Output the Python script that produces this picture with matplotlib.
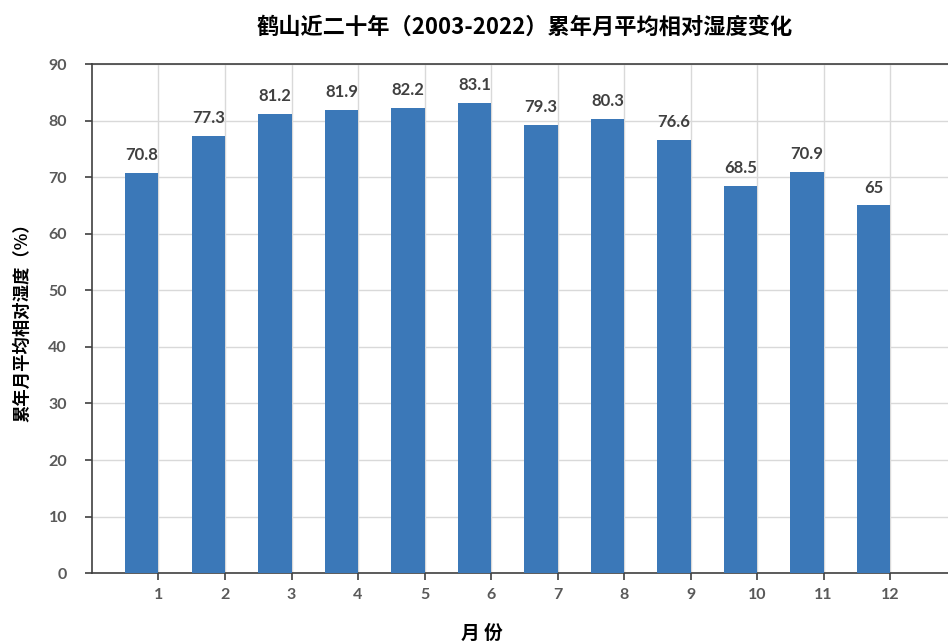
import matplotlib
matplotlib.use('Agg')
import matplotlib.pyplot as plt

# 数据：鹤山累年月平均相对湿度
months = [1, 2, 3, 4, 5, 6, 7, 8, 9, 10, 11, 12]
humidity = [70.8, 77.3, 81.2, 81.9, 82.2, 83.1, 79.3, 80.3, 76.6, 68.5, 70.9, 65]
value_labels = ['70.8', '77.3', '81.2', '81.9', '82.2', '83.1',
                '79.3', '80.3', '76.6', '68.5', '70.9', '65']
yticks = [0, 10, 20, 30, 40, 50, 60, 70, 80, 90]

plt.rcParams['font.family'] = ['Noto Sans CJK SC', 'DejaVu Sans']

fig = plt.figure(figsize=(9.48, 6.44), dpi=100)
ax = fig.add_axes([0.097, 0.110, 0.903, 0.7905])

bar_color = '#3B78B8'
# 柱子右边缘对齐刻度
ax.bar(months, humidity, width=-0.5, align='edge', color=bar_color, zorder=3)

for m, h, lbl in zip(months, humidity, value_labels):
    ax.annotate(lbl, (m - 0.25, h), xytext=(0, 7), textcoords='offset points',
                ha='center', va='bottom', fontsize=12, fontweight='bold',
                color='#404040', family=['Lato', 'DejaVu Sans'], zorder=4)

ax.set_xlim(0, 12.87)
ax.set_ylim(0, 90)
ax.set_xticks(months)
ax.set_yticks(yticks)
ax.grid(True, color='#D9D9D9', linewidth=1.0, zorder=0)

for lbl in ax.get_xticklabels() + ax.get_yticklabels():
    lbl.set_fontfamily(['Lato', 'DejaVu Sans'])
    lbl.set_fontweight('bold')
    lbl.set_color('#595959')
    lbl.set_fontsize(11.5)

ax.tick_params(axis='both', direction='out', length=5, color='#404040', width=1.2)
ax.tick_params(axis='x', pad=6)
ax.tick_params(axis='y', pad=13)

for side in ['left', 'bottom', 'top']:
    ax.spines[side].set_color('#404040')
    ax.spines[side].set_linewidth(1.2)
ax.spines['right'].set_visible(False)

ax.set_ylabel('累年月平均相对湿度（%）', fontsize=12.5, fontweight='bold',
              color='#000000', labelpad=12)

# x轴标题位置偏左，单独放置
fig.text(0.508, 0.016, '月 份', ha='center', va='center',
         fontsize=13.5, fontweight='bold', color='#000000')

fig.text(0.553, 0.958, '鹤山近二十年（2003-2022）累年月平均相对湿度变化',
         ha='center', va='center', fontsize=16, fontweight='bold', color='#000000')

fig.savefig('out.png', dpi=100)
